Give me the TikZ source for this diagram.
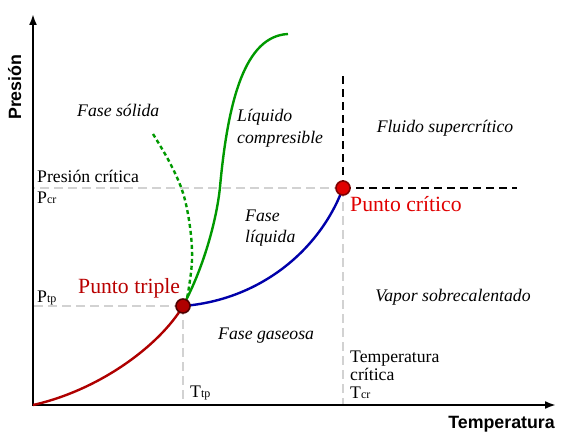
\documentclass[tikz,border=0pt]{standalone}
\usepackage{fontspec}
\setmainfont{Liberation Serif}
\newfontfamily\axisfont{Liberation Sans}
\usetikzlibrary{arrows.meta}
\definecolor{redc}{RGB}{175,0,0}
\definecolor{redt}{RGB}{185,0,0}
\definecolor{redcp}{RGB}{225,0,0}
\definecolor{bluec}{RGB}{0,0,170}
\definecolor{greenc}{RGB}{0,153,0}
\definecolor{gridc}{RGB}{210,210,210}
\newcommand{\sub}[1]{{\fontsize{12bp}{12bp}\selectfont #1}}
\begin{document}
\begin{tikzpicture}[x=1bp,y=-1bp,
  lbl/.style={inner sep=0pt,font=\fontsize{17.7bp}{21bp}\selectfont\rmfamily},
  ilbl/.style={inner sep=0pt,font=\fontsize{17.7bp}{21bp}\selectfont\rmfamily\itshape},
  axlbl/.style={inner sep=0pt,font=\fontsize{17.8bp}{21bp}\selectfont\axisfont\bfseries},
  biglbl/.style={inner sep=0pt,font=\fontsize{21.7bp}{25bp}\selectfont\rmfamily},
  axisline/.style={line width=2bp,-{Latex[length=11bp,width=8bp]}},
  gridline/.style={gridc,line width=1.5bp,dash pattern=on 9bp off 5bp},
  blackdash/.style={black,line width=1.6bp,dash pattern=on 8bp off 5bp},
  curve/.style={line width=2.4bp},
  ptnode/.style={circle,minimum size=14bp,inner sep=0pt,line width=1.6bp}]
\useasboundingbox (0,0) rectangle (575,443);
\fill[white] (0,0) rectangle (575,443);
\coordinate (o) at (33,405);
\coordinate (tp) at (183,306);
\coordinate (cp) at (343,188);
\coordinate (ytop) at (33,14);
\coordinate (xend) at (556,405);
\coordinate (cptop) at (343,76);
\coordinate (cpright) at (517,188);
\coordinate (gmid) at (220,187);
\coordinate (gend) at (288,34);
% grid lines
\draw[gridline] (cp) -- (cp -| o);
\draw[gridline] (tp) -- (tp -| o);
\draw[gridline] (tp) -- (tp |- o);
\draw[gridline] (cp) -- (cp |- o);
\draw[blackdash] (cp) -- (cptop);
\draw[blackdash] (cp) -- (cpright);
% axes
\draw[axisline] (o) -- (ytop);
\draw[axisline] ([xshift=-1bp]o) -- (xend);
% curves
\draw[curve,redc] (o) .. controls (100,390) and (160,345) .. (tp);
\draw[curve,bluec] (tp) .. controls (260,300) and (320,250) .. (cp);
\draw[curve,greenc] (tp) .. controls (205,265) and (217,217) .. (gmid)
  .. controls (228,100) and (245,36) .. (gend);
\draw[curve,greenc,dash pattern=on 4bp off 3bp] plot[smooth,tension=0.6] coordinates {(153,134) (170,163) (183,193) (190,227) (192,260) (188,293) (185,303)};
% points
\node[ptnode,fill=redc,draw={rgb,255:red,80;green,0;blue,0}] (tpn) at (tp) {};
\node[ptnode,fill=redcp,draw={rgb,255:red,130;green,0;blue,0}] (cpn) at (cp) {};
% axis labels
\node[axlbl,anchor=base west,rotate=90] (ylab) at (21,120) {Presión};
\node[axlbl,anchor=base east] (xlab) at (555,428) {Temperatura};
% region labels
\node[ilbl,anchor=base west] (solid) at (77,117) {Fase sólida};
\node[ilbl,anchor=base west] (liq1) at (237,122) {Líquido};
\node[ilbl,anchor=base west] (liq2) at (237,143.5) {compresible};
\node[ilbl,anchor=base west] (fl1) at (245,222) {Fase};
\node[ilbl,anchor=base west] (fl2) at (245,243) {líquida};
\node[ilbl,anchor=base] (sc) at (445,133) {Fluido supercrítico};
\node[ilbl,anchor=base] (vap) at (453,301) {Vapor sobrecalentado};
\node[ilbl,anchor=base west] (gas) at (218,339) {Fase gaseosa};
% value labels
\node[lbl,anchor=base west] (pc) at (37,183) {Presión crítica};
\node[lbl,anchor=base west] (pcr) at (37,204) {P\sub{cr}};
\node[lbl,anchor=base west] (ptp) at (37,302) {P\sub{tp}};
\node[lbl,anchor=base west] (ttp) at (190,397) {T\sub{tp}};
\node[lbl,anchor=base west] (tc1) at (350,362) {Temperatura};
\node[lbl,anchor=base west] (tc2) at (350,380) {crítica};
\node[lbl,anchor=base west] (tc3) at (350,398) {T\sub{cr}};
\node[biglbl,anchor=base west,text=redt] (tpl) at (78,293) {Punto triple};
\node[biglbl,anchor=base west,text=redcp] (cpl) at (350,212) {Punto crítico};
\end{tikzpicture}
\end{document}
